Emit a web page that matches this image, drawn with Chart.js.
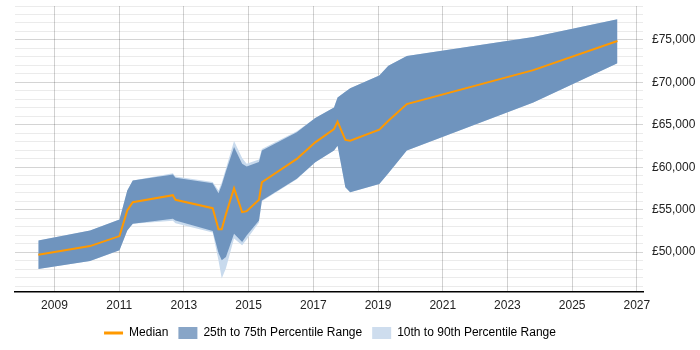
<!DOCTYPE html>
<html>
<head>
<meta charset="utf-8">
<script src="https://cdn.jsdelivr.net/npm/chart.js@4/dist/chart.umd.min.js"></script>
<style>
html,body{margin:0;padding:0;background:#fff;}
#wrap{width:700px;height:350px;}
</style>
</head>
<body>
<div id="wrap"><canvas id="c" width="700" height="350"></canvas></div>
<script>
const years = [2008.50, 2010.10, 2011.01, 2011.25, 2011.42, 2012.66, 2012.74, 2013.89, 2014.07, 2014.17, 2014.30, 2014.55, 2014.80, 2014.94, 2015.32, 2015.41, 2016.49, 2017.06, 2017.64, 2017.75, 2017.99, 2018.14, 2019.04, 2019.32, 2019.89, 2023.80, 2026.40];
const median = [49700, 50710, 51890, 54910, 55880, 56710, 56170, 55180, 52680, 52680, 54480, 57530, 54710, 54830, 56170, 58230, 60980, 62930, 64510, 65370, 63220, 63130, 64420, 65480, 67440, 71440, 74880];
const p25 = [48010, 48950, 50210, 52560, 53340, 53930, 53730, 52480, 49900, 49030, 49420, 52170, 51190, 51970, 53730, 56080, 58630, 60580, 61960, 62540, 57650, 57060, 58040, 59300, 61960, 67630, 72260];
const p75 = [51380, 52560, 53850, 57260, 58430, 59140, 58750, 58120, 56940, 57900, 59530, 62400, 60400, 60080, 60620, 61960, 64110, 65800, 67050, 68220, 68900, 69300, 70800, 71950, 73120, 75350, 77430];
const p10 = [48010, 48950, 50210, 52560, 53340, 53700, 53400, 52300, 49000, 46880, 48100, 51590, 50800, 51500, 53500, 56000, 58600, 60580, 61960, 62540, 57650, 57060, 58040, 59300, 61960, 67630, 72260];
const p90 = [51380, 52560, 53850, 57260, 58430, 59300, 58900, 58250, 57260, 58200, 59850, 63100, 61100, 60400, 60900, 62160, 64250, 65800, 67050, 68220, 68900, 69300, 70800, 71950, 73120, 75350, 77430];
const xTicks = [2009, 2011, 2013, 2015, 2017, 2019, 2021, 2023, 2025, 2027];
const seriesNames = ['Median', '25th to 75th Percentile Range', '10th to 90th Percentile Range'];

const pts = arr => arr.map((v, i) => ({x: years[i], y: v}));
const ORANGE = '#FF9900';
const BAND = 'rgb(111,148,190)';
const LIGHT = 'rgb(200,218,237)';

const yTickVals = [];
for (let v = 46000; v <= 79000; v += 1000) yTickVals.push(v);

const legendShift = {
  id: 'legendShift',
  beforeDraw(chart) {
    const lg = chart.legend;
    if (!lg) return;
    if (lg._origLeft === undefined || lg._origLeft !== lg.left + 25) {
      if (lg._shifted !== true) {
        lg._origLeft = lg.left;
        lg.left -= 25;
        lg.right -= 25;
        lg._shifted = true;
      }
    }
  }
};

new Chart(document.getElementById('c'), {
  type: 'line',
  data: {
    datasets: [
      {label: seriesNames[0], data: pts(median), borderColor: ORANGE, borderWidth: 2, pointRadius: 0, fill: false, tension: 0},
      {label: 'p75', data: pts(p75), borderWidth: 0, borderColor: 'rgba(0,0,0,0)', backgroundColor: BAND, pointRadius: 0, fill: '+1', tension: 0},
      {label: 'p25', data: pts(p25), borderWidth: 0, borderColor: 'rgba(0,0,0,0)', pointRadius: 0, fill: false, tension: 0},
      {label: 'p90', data: pts(p90), borderWidth: 0, borderColor: 'rgba(0,0,0,0)', backgroundColor: LIGHT, pointRadius: 0, fill: '+1', tension: 0},
      {label: 'p10', data: pts(p10), borderWidth: 0, borderColor: 'rgba(0,0,0,0)', pointRadius: 0, fill: false, tension: 0}
    ]
  },
  plugins: [legendShift],
  options: {
    responsive: false,
    animation: false,
    layout: {padding: {left: 15, top: 6, right: 5, bottom: 1}},
    plugins: {
      tooltip: {enabled: false},
      legend: {
        position: 'bottom',
        labels: {
          usePointStyle: true,
          pointStyleWidth: 19,
          boxHeight: 16,
          padding: 10,
          color: '#222',
          font: {family: '"Liberation Sans", Arial, sans-serif', size: 12},
          generateLabels: () => [
            {text: seriesNames[0], pointStyle: 'line', strokeStyle: ORANGE, fillStyle: ORANGE, lineWidth: 3, datasetIndex: 0},
            {text: seriesNames[1], pointStyle: 'rect', fillStyle: 'rgb(136,165,199)', strokeStyle: 'rgb(136,165,199)', lineWidth: 0, datasetIndex: 1},
            {text: seriesNames[2], pointStyle: 'rect', fillStyle: 'rgb(206,221,238)', strokeStyle: 'rgb(206,221,238)', lineWidth: 0, datasetIndex: 3}
          ]
        }
      }
    },
    scales: {
      x: {
        type: 'linear',
        min: 2007.78,
        max: 2027.19,
        afterBuildTicks: s => { s.ticks = xTicks.map(v => ({value: v})); },
        afterFit: s => { s.height = 25; s.paddingLeft = 0; s.paddingRight = 0; },
        grid: {color: 'rgba(0,0,0,0.18)', drawTicks: false},
        border: {display: true, color: '#000', width: 1.5},
        ticks: {
          padding: 6,
          color: '#222',
          maxRotation: 0,
          font: {family: '"Liberation Sans", Arial, sans-serif', size: 12},
          callback: v => String(v)
        }
      },
      y: {
        position: 'right',
        min: 45300,
        max: 79000,
        afterBuildTicks: s => { s.ticks = yTickVals.map(v => ({value: v})); },
        afterFit: s => { s.width = 52; s.paddingTop = 0; s.paddingBottom = 0; },
        grid: {
          drawTicks: false,
          color: ctx => (ctx.tick && ctx.tick.value % 5000 === 0) ? 'rgba(0,0,0,0.17)' : 'rgba(0,0,0,0.08)'
        },
        border: {display: false},
        ticks: {
          padding: 9,
          color: '#222',
          font: {family: '"Liberation Sans", Arial, sans-serif', size: 12},
          autoSkip: false,
          callback: v => (v % 5000 === 0) ? '£' + v.toLocaleString('en-GB') : ''
        }
      }
    }
  }
});
</script>
</body>
</html>
